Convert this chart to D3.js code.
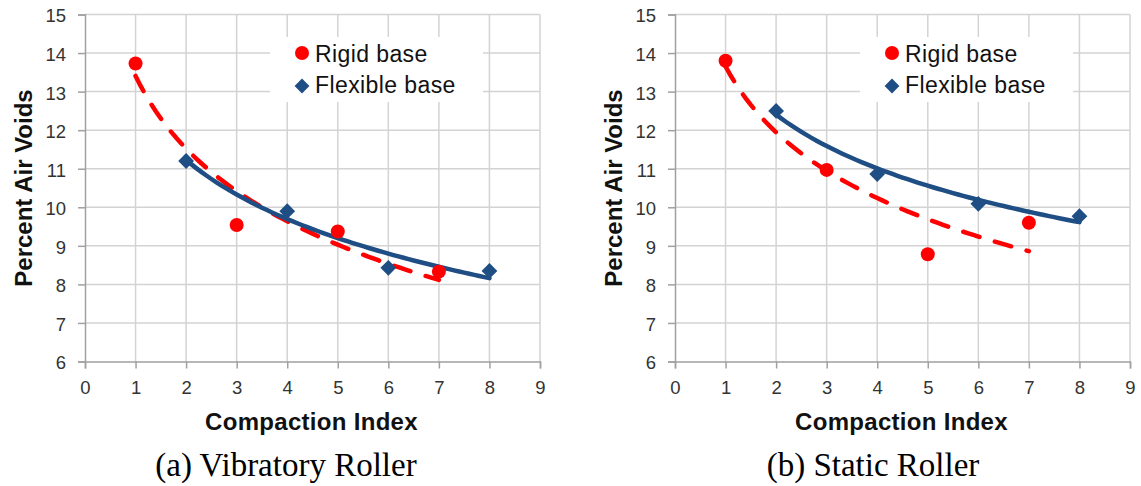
<!DOCTYPE html>
<html>
<head>
<meta charset="utf-8">
<script src="https://cdn.jsdelivr.net/npm/d3@7"></script>
<style>
  html, body { margin: 0; padding: 0; background: #fff; }
  svg { display: block; }
  .tick text { font-family: "Liberation Sans", Arial, sans-serif; }
</style>
</head>
<body>
<svg id="chart" width="1141" height="486"></svg>
<script>
// ---- data ----
const xTickValues = [0, 1, 2, 3, 4, 5, 6, 7, 8, 9];
const yTickValues = [6, 7, 8, 9, 10, 11, 12, 13, 14, 15];
const rigidIndex = [1, 3, 5, 7];
const flexibleIndex = [2, 4, 6, 8];
const vibratoryRigid = [13.73, 9.54, 9.37, 8.33];
const vibratoryFlexible = [11.2, 9.9, 8.43, 8.35];
const staticRigid = [13.8, 10.97, 8.78, 9.6];
const staticFlexible = [12.5, 10.86, 10.09, 9.77];
const seriesNames = ["Rigid base", "Flexible base"];
const panelCaptions = ["(a) Vibratory Roller", "(b) Static Roller"];
const xAxisTitle = "Compaction Index";
const yAxisTitle = "Percent Air Voids";

const RED = "#ff0000";
const BLUE = "#1f4e84";
const GRID = "#d3d3d3";
const AXIS = "#a0a0a0";

const svg = d3.select("#chart");

// logarithmic least-squares trendline (as a spreadsheet would fit it)
function logFit(xs, ys) {
  const lx = xs.map(Math.log);
  const mx = d3.mean(lx), my = d3.mean(ys);
  let sxy = 0, sxx = 0;
  lx.forEach((v, i) => { sxy += (v - mx) * (ys[i] - my); sxx += (v - mx) * (v - mx); });
  const b = sxy / sxx, a = my - b * mx;
  const [x0, x1] = d3.extent(xs);
  return d3.range(0, 61).map(k => {
    const x = x0 + (x1 - x0) * k / 60;
    return [x, a + b * Math.log(x)];
  });
}

function drawPanel(offsetX, rigid, flexible, caption, captionX) {
  const g = svg.append("g").attr("transform", `translate(${offsetX},0)`);
  const left = 85, right = 540, top = 14.5, bottom = 361.5;
  const x = d3.scaleLinear().domain([0, 9]).range([left, right]);
  const y = d3.scaleLinear().domain([6, 15]).range([bottom, top]);

  // gridlines
  g.append("g").selectAll("line.h").data(yTickValues.filter(v => v > 6)).join("line")
    .attr("x1", left).attr("x2", right).attr("y1", d => y(d)).attr("y2", d => y(d))
    .attr("stroke", GRID).attr("stroke-width", 1.5);
  g.append("g").selectAll("line.v").data(xTickValues.filter(v => v > 0)).join("line")
    .attr("x1", d => x(d)).attr("x2", d => x(d)).attr("y1", top).attr("y2", bottom)
    .attr("stroke", GRID).attr("stroke-width", 1.5);

  // axes
  const yAxis = d3.axisLeft(y).tickValues(yTickValues).tickSize(7).tickPadding(12).tickFormat(d3.format("d"));
  const xAxis = d3.axisBottom(x).tickValues(xTickValues).tickSize(7).tickPadding(12).tickFormat(d3.format("d"));
  const ya = g.append("g").attr("transform", `translate(${left},0)`).call(yAxis);
  const xa = g.append("g").attr("transform", `translate(0,${bottom})`).call(xAxis);
  [ya, xa].forEach(a => {
    a.select(".domain").attr("stroke", AXIS).attr("stroke-width", 1.5);
    a.selectAll(".tick line").attr("stroke", AXIS).attr("stroke-width", 1.5);
    a.selectAll(".tick text").attr("fill", "#333").style("font-size", "18.5px");
  });
  ya.selectAll(".tick text").attr("dy", "0.4em");

  // legend box
  const lg = g.append("g");
  lg.append("rect").attr("x", 270).attr("y", 37).attr("width", 213).attr("height", 65).attr("fill", "#fff");
  lg.append("circle").attr("cx", 302).attr("cy", 53).attr("r", 7).attr("fill", RED);
  lg.append("path").attr("d", d3.symbol(d3.symbolSquare, 110)()).attr("transform", "translate(302,86) rotate(45)").attr("fill", BLUE);
  lg.selectAll("text").data(seriesNames).join("text")
    .attr("x", 315).attr("y", (d, i) => i === 0 ? 61.7 : 93.3)
    .attr("font-family", "Liberation Sans, Arial, sans-serif").attr("font-size", 23)
    .attr("letter-spacing", 0.4).attr("fill", "#111").text(d => d);

  const line = d3.line().x(d => x(d[0])).y(d => y(d[1])).curve(d3.curveLinear);

  // trendlines
  g.append("path").datum(logFit(rigidIndex, rigid)).attr("d", line)
    .attr("fill", "none").attr("stroke", RED).attr("stroke-width", 4.5)
    .attr("stroke-dasharray", "17,16").attr("stroke-linecap", "round");
  g.append("path").datum(logFit(flexibleIndex, flexible)).attr("d", line)
    .attr("fill", "none").attr("stroke", BLUE).attr("stroke-width", 4.5).attr("stroke-linecap", "round");

  // markers
  g.append("g").selectAll("circle").data(rigidIndex.map((v, i) => [v, rigid[i]])).join("circle")
    .attr("cx", d => x(d[0])).attr("cy", d => y(d[1])).attr("r", 7).attr("fill", RED);
  g.append("g").selectAll("path").data(flexibleIndex.map((v, i) => [v, flexible[i]])).join("path")
    .attr("d", d3.symbol(d3.symbolSquare, 125)())
    .attr("transform", d => `translate(${x(d[0])},${y(d[1])}) rotate(45)`).attr("fill", BLUE);

  // titles
  g.append("text").attr("x", (left + right) / 2 - 1).attr("y", 430)
    .attr("text-anchor", "middle").attr("font-family", "Liberation Sans, Arial, sans-serif")
    .attr("font-weight", "bold").attr("font-size", 24).attr("letter-spacing", 0.3).attr("fill", "#111").text(xAxisTitle);
  g.append("text").attr("transform", `translate(31.5,${(top + bottom) / 2}) rotate(-90)`)
    .attr("text-anchor", "middle").attr("font-family", "Liberation Sans, Arial, sans-serif")
    .attr("font-weight", "bold").attr("font-size", 24).attr("fill", "#111").text(yAxisTitle);
  g.append("text").attr("x", captionX).attr("y", 475.5).attr("text-anchor", "middle")
    .attr("font-family", "Liberation Serif, Times New Roman, serif").attr("font-size", 33)
    .attr("fill", "#000").text(caption);
}

drawPanel(0, vibratoryRigid, vibratoryFlexible, panelCaptions[0], 286);
drawPanel(590, staticRigid, staticFlexible, panelCaptions[1], 283);
</script>
</body>
</html>
